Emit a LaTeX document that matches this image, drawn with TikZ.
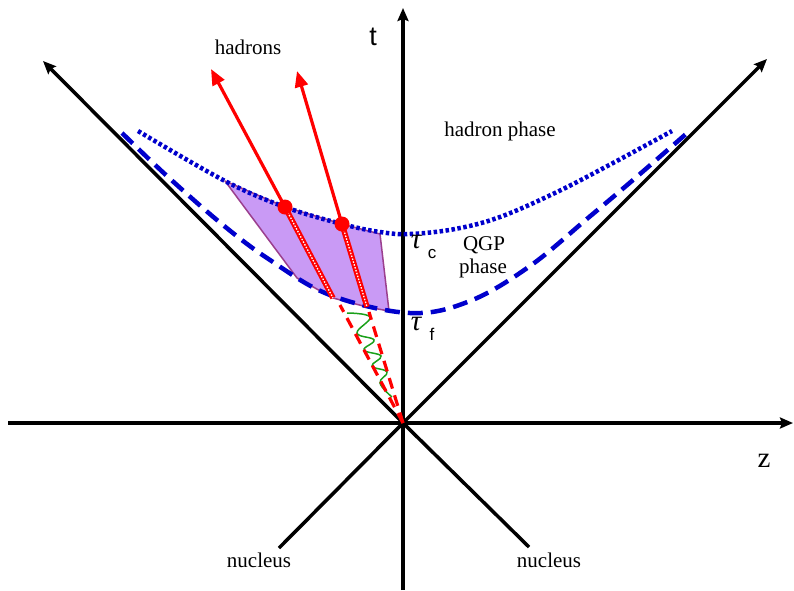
\documentclass[tikz,border=0pt]{standalone}
\usepackage{fontspec}
\setmainfont{Liberation Serif}
\newfontfamily\hsans{Liberation Sans}
\usetikzlibrary{arrows.meta}
\definecolor{qgpfill}{HTML}{C99AF5}
\definecolor{qgpedge}{HTML}{9B3F8E}
\definecolor{curveblue}{HTML}{0000CC}
\definecolor{gluon}{HTML}{19A019}
\tikzset{
  axis/.style={line width=3.5pt, black},
  axarrow/.style={axis, -{Stealth[length=13pt,width=11pt,inset=2pt]}},
  hadarrow/.style={line width=3.2pt, red, -{Triangle[length=16pt,width=13pt]}},
  lbl/.style={font=\fontsize{21}{24}\selectfont, inner sep=0pt},
  taulbl/.style={font=\fontsize{29}{30}\selectfont\itshape, inner sep=0pt},
  sublbl/.style={font=\hsans\fontsize{17}{20}\selectfont, inner sep=0pt},
  dashcurve/.style={line width=4.5pt, curveblue, dash pattern=on 15pt off 8pt},
  dotcurve/.style={line width=4.5pt, curveblue, dash pattern=on 3.5pt off 2.5pt},
  stripe/.style={line width=5.5pt, red},
  stripedot/.style={line width=1.3pt, white, dash pattern=on 1.5pt off 1.5pt},
  reddash/.style={line width=3.2pt, red, dash pattern=on 11pt off 7pt},
}
\begin{document}
\begin{tikzpicture}[x=1pt,y=-1pt]
\useasboundingbox (0,0) rectangle (794,590);
% key coordinates
\coordinate (O) at (403,423);
\coordinate (ttop) at (403,8);
\coordinate (tbot) at (403,590);
\coordinate (zl) at (8,423);
\coordinate (zr) at (793,423);
\coordinate (dl) at (43,61);
\coordinate (dr) at (767,59);
\coordinate (nl) at (279,548);
\coordinate (nr) at (529,547);
\coordinate (h1) at (285,207);
\coordinate (h2) at (342,224);
\coordinate (h1b) at (333,298);
\coordinate (h2b) at (367,307);
\coordinate (a1) at (211,69);
\coordinate (a2) at (297,71);
% QGP region
\filldraw[fill=qgpfill, draw=qgpedge, line width=1.5pt, line join=round]
  (225,181) -- (h1) -- (h2) -- (380,234) -- (389,311) -- (h2b) -- (h1b) -- (297,278) -- cycle;
% axes
\draw[axarrow] (tbot) -- (ttop);
\draw[axarrow] (zl) -- (zr);
\draw[axarrow] (O) -- (dl);
\draw[axarrow] (O) -- (dr);
\draw[axis] (nl) -- (O);
\draw[axis] (nr) -- (O);
% curves
\draw[dashcurve] plot[smooth, tension=0.6] coordinates {(122,133) (167,176) (223,225) (270,260) (330,295) (410,313) (470,301) (530,266) (588,218) (633,180) (686,134)};
\draw[dotcurve] plot[smooth, tension=0.6] coordinates {(138,131) (225,181) (285,207) (342,224) (380,232) (410,234) (455,229) (500,217) (557,192) (613,163) (672,131)};
% gluon
\draw[gluon, line width=1.5pt] plot[smooth, tension=0.7] coordinates {(347,313) (370,317) (357,333) (374,340) (364,350) (381,356) (372,366) (387,372) (380,383) (392,397)};
% red dashed parton lines
\draw[reddash] (O) -- (340,305);
\draw[reddash] (O) -- (369,312);
% hadron stripes
\draw[stripe] (h1) -- (h1b);
\draw[stripe] (h2) -- (h2b);
\draw[stripedot] (h1) -- (h1b);
\draw[stripedot] (h2) -- (h2b);
% hadron arrows
\draw[hadarrow] (h1) -- (a1);
\draw[hadarrow] (h2) -- (a2);
\fill[red] (h1) circle (7.5);
\fill[red] (h2) circle (7.5);
% labels
\node[lbl] (hadrons) at (248,47) {hadrons};
\node[font=\hsans\fontsize{27}{30}\selectfont, inner sep=0pt] (tlab) at (373,37) {t};
\node[font=\fontsize{29}{30}\selectfont, inner sep=0pt] (zlab) at (764,461) {z};
\node[lbl] (hphase) at (500,131) {hadron phase};
\node[lbl] (qgp) at (484,245) {QGP};
\node[lbl] (qphase) at (483,268) {phase};
\node[taulbl] (tauc) at (416,242) {τ};
\node[sublbl] (cl) at (432,254) {c};
\node[taulbl] (tauf) at (416,324) {τ};
\node[sublbl] (fl) at (432,334) {f};
\node[lbl] (nucl) at (259,560) {nucleus};
\node[lbl] (nucr) at (549,560) {nucleus};
\end{tikzpicture}
\end{document}
